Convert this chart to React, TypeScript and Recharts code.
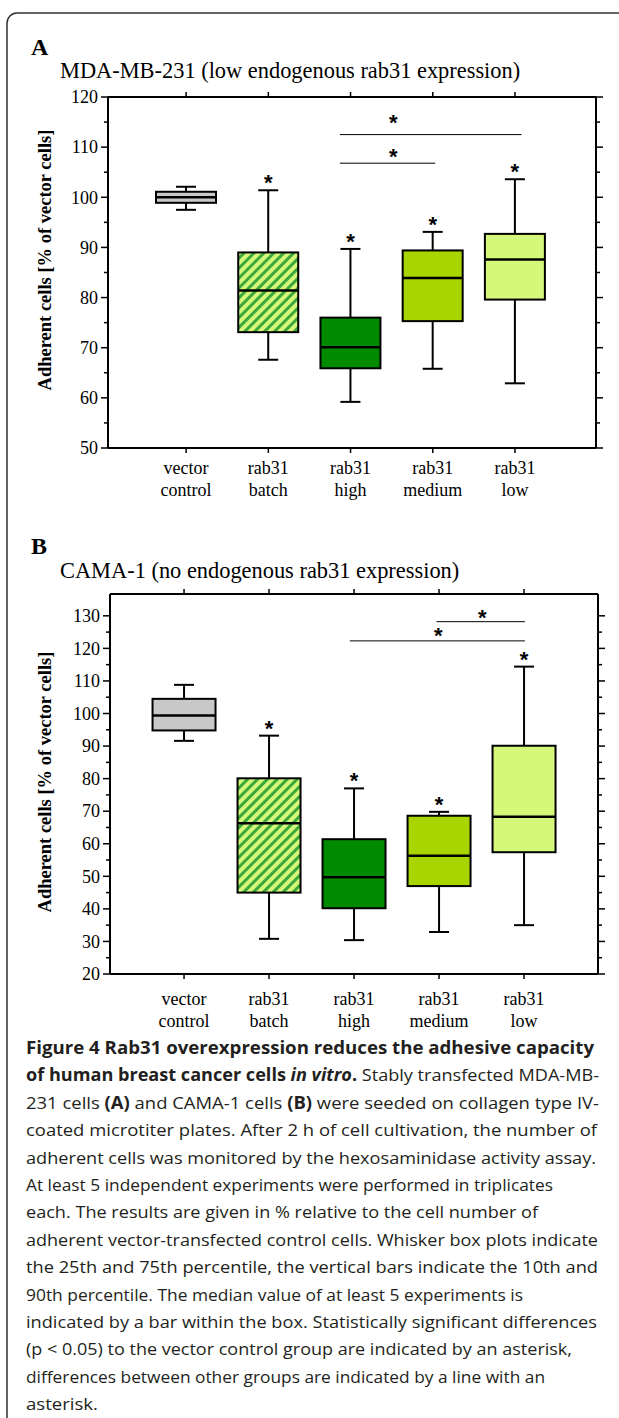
import React from "react";
import {
  ComposedChart,
  Bar,
  XAxis,
  YAxis,
  ReferenceLine,
  ReferenceDot,
} from "recharts";

const SERIF = "'Liberation Serif', 'Times New Roman', serif";
const SANS = "'Open Sans', 'Noto Sans', sans-serif";

// categories (x positions 1..5 on a numeric axis)
const groups = ["vector\ncontrol", "rab31\nbatch", "rab31\nhigh", "rab31\nmedium", "rab31\nlow"];
const positions = [1, 2, 3, 4, 5];
const fills = ["#c8c8c8", "url(#hatch)", "#008a00", "#a8d400", "#d5f77a"];

// panel A: MDA-MB-231 (10th, 25th, median, 75th, 90th percentile)
const aLow = [97.5, 67.6, 59.2, 65.8, 62.9];
const aQ1 = [98.9, 73.1, 65.9, 75.3, 79.6];
const aMed = [100.0, 81.4, 70.1, 83.9, 87.6];
const aQ3 = [101.1, 89.0, 76.0, 89.4, 92.7];
const aHigh = [102.1, 101.4, 89.7, 93.1, 103.6];
const aSig = [false, true, true, true, true];
const aTicks = [50, 55, 60, 65, 70, 75, 80, 85, 90, 95, 100, 105, 110, 115, 120];
const aBrackets = [
  { from: 2.87, to: 5.08, y: 112.5 },
  { from: 2.87, to: 4.03, y: 106.8 },
];
const aBracketStars = [
  { x: 3.52, y: 115.9 },
  { x: 3.52, y: 109.0 },
];

// panel B: CAMA-1
const bLow = [91.6, 30.8, 30.4, 32.9, 35.0];
const bQ1 = [94.8, 45.0, 40.2, 47.0, 57.4];
const bMed = [99.4, 66.3, 49.7, 56.3, 68.3];
const bQ3 = [104.5, 80.1, 61.4, 68.6, 90.1];
const bHigh = [108.8, 93.2, 77.0, 69.8, 114.4];
const bSig = [false, true, true, true, true];
const bTicks = [20, 25, 30, 35, 40, 45, 50, 55, 60, 65, 70, 75, 80, 85, 90, 95, 100, 105, 110, 115, 120, 125, 130];
const bBrackets = [
  { from: 3.97, to: 5.01, y: 128.2 },
  { from: 2.95, to: 5.01, y: 122.3 },
];
const bBracketStars = [
  { x: 4.51, y: 130.9 },
  { x: 3.99, y: 125.3 },
];

// caption, one entry per printed line: [text, style]
const captionLines: [string, string][][] = [
  [["Figure 4 Rab31 overexpression reduces the adhesive capacity", "b"]],
  [["of human breast cancer cells ", "b"], ["in vitro", "bi"], [".", "b"], [" Stably transfected MDA-MB-", "n"]],
  [["231 cells ", "n"], ["(A)", "b"], [" and CAMA-1 cells ", "n"], ["(B)", "b"], [" were seeded on collagen type IV-", "n"]],
  [["coated microtiter plates. After 2 h of cell cultivation, the number of", "n"]],
  [["adherent cells was monitored by the hexosaminidase activity assay.", "n"]],
  [["At least 5 independent experiments were performed in triplicates", "n"]],
  [["each. The results are given in % relative to the cell number of", "n"]],
  [["adherent vector-transfected control cells. Whisker box plots indicate", "n"]],
  [["the 25th and 75th percentile, the vertical bars indicate the 10th and", "n"]],
  [["90th percentile. The median value of at least 5 experiments is", "n"]],
  [["indicated by a bar within the box. Statistically significant differences", "n"]],
  [["(p < 0.05) to the vector control group are indicated by an asterisk,", "n"]],
  [["differences between other groups are indicated by a line with an", "n"]],
  [["asterisk.", "n"]],
];
const captionWidths = [568, 573, 573, 571, 570, 527, 512, 572, 572, 497, 571, 546, 519, 72];

type Row = {
  pos: number;
  low: number;
  q1: number;
  med: number;
  q3: number;
  high: number;
  sig: boolean;
  fill: string;
};

const buildRows = (
  low: number[],
  q1: number[],
  med: number[],
  q3: number[],
  high: number[],
  sig: boolean[]
): Row[] =>
  positions.map((pos, i) => ({
    pos,
    low: low[i],
    q1: q1[i],
    med: med[i],
    q3: q3[i],
    high: high[i],
    sig: sig[i],
    fill: fills[i],
  }));

const rowsA = buildRows(aLow, aQ1, aMed, aQ3, aHigh, aSig);
const rowsB = buildRows(bLow, bQ1, bMed, bQ3, bHigh, bSig);

const Star = ({ cx, cy }: { cx: number; cy: number }) => (
  <text
    x={cx}
    y={cy + 12}
    textAnchor="middle"
    fontFamily="'Liberation Sans', Arial, sans-serif"
    fontWeight="bold"
    fontSize={22}
    fill="#000"
  >
    *
  </text>
);

// the bar spans the whiskers; box and median are placed inside it
const BoxShape = (props: any) => {
  const { x, y, width, height, payload } = props;
  const { low, high, q1, med, q3, sig, fill } = payload as Row;
  const py = (v: number) => y + (height * (high - v)) / (high - low);
  const cx = x + width / 2;
  const cap = 10;
  return (
    <g>
      <line x1={cx} x2={cx} y1={py(high)} y2={py(low)} stroke="#000" strokeWidth={2} />
      <line x1={cx - cap} x2={cx + cap} y1={py(high)} y2={py(high)} stroke="#000" strokeWidth={2} />
      <line x1={cx - cap} x2={cx + cap} y1={py(low)} y2={py(low)} stroke="#000" strokeWidth={2} />
      <rect
        x={x}
        y={py(q3)}
        width={width}
        height={py(q1) - py(q3)}
        fill={fill}
        stroke="#000"
        strokeWidth={2}
      />
      <line x1={x} x2={x + width} y1={py(med)} y2={py(med)} stroke="#000" strokeWidth={2.5} />
      {sig && <Star cx={cx} cy={py(high) - 12} />}
    </g>
  );
};

const LeftTick = (props: any) => {
  const { x, y, payload } = props;
  const major = payload.value % 10 === 0;
  return (
    <g>
      <line x1={x} x2={x - (major ? 7 : 4)} y1={y} y2={y} stroke="#000" strokeWidth={1.5} />
      {major && (
        <text x={x - 10} y={y} dy="0.35em" textAnchor="end" fontFamily={SERIF} fontSize={18} fill="#000">
          {payload.value}
        </text>
      )}
    </g>
  );
};

const RightTick = (props: any) => {
  const { x, y, payload } = props;
  const major = payload.value % 10 === 0;
  return <line x1={x} x2={x + (major ? 7 : 4)} y1={y} y2={y} stroke="#000" strokeWidth={1.5} />;
};

const TopTick = (props: any) => {
  const { x, y } = props;
  return <line x1={x} x2={x} y1={y} y2={y - 5} stroke="#000" strokeWidth={1.5} />;
};

const BottomTick = (props: any) => {
  const { x, y, payload, labelOffset } = props;
  const idx = positions.indexOf(payload.value);
  const [l1, l2] = (groups[idx] || "").split("\n");
  return (
    <g>
      <line x1={x} x2={x} y1={y} y2={y + 5} stroke="#000" strokeWidth={1.5} />
      <text x={x} y={y + labelOffset} textAnchor="middle" fontFamily={SERIF} fontSize={18} fill="#000">
        <tspan x={x}>{l1}</tspan>
        <tspan x={x} dy={22}>
          {l2}
        </tspan>
      </text>
    </g>
  );
};

const axisStyle = { stroke: "#000", strokeWidth: 2 };

type PanelProps = {
  rows: Row[];
  domainX: [number, number];
  domainY: [number, number];
  yTicks: number[];
  brackets: { from: number; to: number; y: number }[];
  stars: { x: number; y: number }[];
  height: number;
  margin: { top: number; right: number; bottom: number; left: number };
  barSize: number;
  labelOffset: number;
};

const BoxPanel = (p: PanelProps) => (
  <ComposedChart width={619} height={p.height} data={p.rows} margin={p.margin}>
    <XAxis
      xAxisId="b"
      dataKey="pos"
      type="number"
      domain={p.domainX}
      ticks={positions}
      interval={0}
      allowDataOverflow
      height={60}
      tickSize={0}
      tickMargin={0}
      tickLine={false}
      axisLine={axisStyle}
      tick={(t: any) => <BottomTick {...t} labelOffset={p.labelOffset} />}
    />
    <XAxis
      xAxisId="t"
      orientation="top"
      dataKey="pos"
      type="number"
      domain={p.domainX}
      ticks={positions}
      interval={0}
      allowDataOverflow
      height={10}
      tickSize={0}
      tickMargin={0}
      tickLine={false}
      axisLine={axisStyle}
      tick={(t: any) => <TopTick {...t} />}
    />
    <YAxis
      yAxisId="l"
      type="number"
      domain={p.domainY}
      ticks={p.yTicks}
      interval={0}
      allowDataOverflow
      width={60}
      tickSize={0}
      tickMargin={0}
      tickLine={false}
      axisLine={axisStyle}
      tick={(t: any) => <LeftTick {...t} />}
    />
    <YAxis
      yAxisId="r"
      orientation="right"
      type="number"
      domain={p.domainY}
      ticks={p.yTicks}
      interval={0}
      allowDataOverflow
      width={10}
      tickSize={0}
      tickMargin={0}
      tickLine={false}
      axisLine={axisStyle}
      tick={(t: any) => <RightTick {...t} />}
    />
    <Bar
      xAxisId="b"
      yAxisId="l"
      dataKey={(d: Row) => [d.low, d.high]}
      barSize={p.barSize}
      shape={(s: any) => <BoxShape {...s} />}
      isAnimationActive={false}
    />
    {p.brackets.map((b, i) => (
      <ReferenceLine
        key={`br-${i}`}
        xAxisId="b"
        yAxisId="l"
        segment={[
          { x: b.from, y: b.y },
          { x: b.to, y: b.y },
        ]}
        stroke="#000"
        strokeWidth={1}
      />
    ))}
    {p.stars.map((s, i) => (
      <ReferenceDot
        key={`st-${i}`}
        xAxisId="b"
        yAxisId="l"
        x={s.x}
        y={s.y}
        r={0}
        shape={(d: any) => <Star cx={d.cx} cy={d.cy} />}
      />
    ))}
  </ComposedChart>
);

const styleOf = (s: string) => ({
  fontWeight: s === "n" ? "normal" : "bold",
  fontStyle: s === "bi" ? "italic" : "normal",
});

export default function App() {
  return (
    <div
      style={{
        position: "absolute",
        left: 0,
        top: 0,
        width: 619,
        height: 1418,
        overflow: "hidden",
        background: "#fff",
      }}
    >
      <svg width={619} height={1418} style={{ position: "absolute", left: 0, top: 0 }}>
        <defs>
          <pattern id="hatch" width="7" height="7" patternUnits="userSpaceOnUse" patternTransform="rotate(45)">
            <rect width="7" height="7" fill="#d5f77a" />
            <rect width="3" height="7" fill="#3ca83a" />
          </pattern>
        </defs>
        <path d="M 7 1500 L 7 23 A 10 10 0 0 1 17 13 L 700 13" fill="none" stroke="#333" strokeWidth={1.5} />
        <text x={31} y={55} fontFamily={SERIF} fontWeight="bold" fontSize={24} fill="#000">A</text>
        <text x={60} y={78} fontFamily={SERIF} fontSize={22.4} fill="#000">
          MDA-MB-231 (low endogenous rab31 expression)
        </text>
        <text
          transform="translate(45,260) rotate(-90)"
          textAnchor="middle"
          dominantBaseline="central"
          fontFamily={SERIF}
          fontWeight="bold"
          fontSize={18.5}
          fill="#000"
        >
          Adherent cells [% of vector cells]
        </text>
        <text x={31} y={554} fontFamily={SERIF} fontWeight="bold" fontSize={24} fill="#000">B</text>
        <text x={60} y={578} fontFamily={SERIF} fontSize={22.4} fill="#000">
          CAMA-1 (no endogenous rab31 expression)
        </text>
        <text
          transform="translate(45,782) rotate(-90)"
          textAnchor="middle"
          dominantBaseline="central"
          fontFamily={SERIF}
          fontWeight="bold"
          fontSize={18.5}
          fill="#000"
        >
          Adherent cells [% of vector cells]
        </text>
        {captionLines.map((line, i) => (
          <text
            key={`cap-${i}`}
            x={26}
            y={1054 + i * 27.4}
            fontFamily={SANS}
            fontSize={17}
            fill="#231f20"
            textLength={captionWidths[i]}
            lengthAdjust="spacingAndGlyphs"
          >
            {line.map(([txt, s], j) => (
              <tspan key={j} style={styleOf(s)}>
                {txt}
              </tspan>
            ))}
          </text>
        ))}
      </svg>
      <div style={{ position: "absolute", left: 0, top: 0 }}>
        <BoxPanel
          rows={rowsA}
          domainX={[0.05, 5.985]}
          domainY={[50, 120]}
          yTicks={aTicks}
          brackets={aBrackets}
          stars={aBracketStars}
          height={520}
          margin={{ top: 87, right: 13, bottom: 12, left: 48 }}
          barSize={60}
          labelOffset={26}
        />
      </div>
      <div style={{ position: "absolute", left: 0, top: 500 }}>
        <BoxPanel
          rows={rowsB}
          domainX={[0.129, 5.87]}
          domainY={[20, 136.7]}
          yTicks={bTicks}
          brackets={bBrackets}
          stars={bBracketStars}
          height={540}
          margin={{ top: 84, right: 11, bottom: 6, left: 50 }}
          barSize={63}
          labelOffset={31}
        />
      </div>
    </div>
  );
}
